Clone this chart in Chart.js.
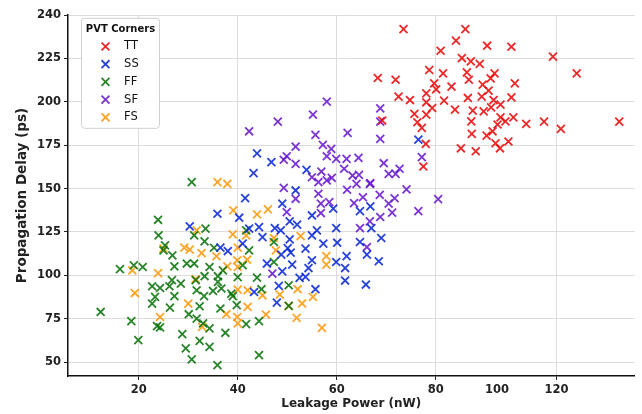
<!DOCTYPE html>
<html>
<head>
<meta charset="utf-8">
<script src="https://cdn.jsdelivr.net/npm/chart.js@4.4.1/dist/chart.umd.min.js"></script>
<style>
  html, body { margin: 0; padding: 0; background: #fff; }
  #wrap { width: 642px; height: 414px; }
</style>
</head>
<body>
<div id="wrap"><canvas id="pvtChart" width="642" height="414"></canvas></div>
<script>
// PVT corner samples: [leakage power (nW), propagation delay (ps)]
const cornerNames = ['TT', 'SS', 'FF', 'SF', 'FS'];
const cornerColors = [
    'rgba(235, 10, 10, 0.88)',
    'rgba(10, 40, 215, 0.88)',
    'rgba(10, 115, 10, 0.88)',
    'rgba(105, 25, 205, 0.88)',
    'rgba(255, 152, 10, 0.88)'
];

const ttPoints = [
    [73.5, 241.9], [86, 241.9], [84.1, 235.2], [90.4, 232.3], [95.3, 231.7], [81, 229.4], [103.7, 226],
    [85.3, 225.2], [87.1, 223.3], [88.9, 221.8], [108.5, 216.4], [78.7, 218.3], [81.5, 216.4], [86.3, 216.9],
    [91.9, 216.4], [68.3, 213.7], [71.9, 212.7], [86.7, 212.7], [91.1, 213.5], [96, 210.6], [79.7, 210.6],
    [83.2, 208.7], [80.1, 207.2], [89.5, 209.9], [90.7, 206.4], [78.1, 204.8], [72.5, 203], [74.8, 201],
    [78.1, 199.7], [81.7, 200.7], [86.5, 202.2], [89.3, 203], [91.7, 201], [95.3, 202.5], [93.1, 198.4],
    [79.3, 196.4], [83.9, 195.5], [87.5, 194.9], [89.7, 194.5], [91.2, 196.8], [75.7, 193], [78.1, 192.6],
    [87.2, 188.7], [93.1, 191], [94.1, 188.7], [95.7, 191], [98.3, 187.3], [101.9, 188.6], [105.3, 184.4],
    [117.1, 188.6], [76.3, 188.2], [77.2, 185], [69.2, 189.2], [92.5, 186.9], [91.5, 183], [90.3, 180.5],
    [87.3, 181.5], [78, 175.7], [92.1, 176.1], [94.7, 177.1], [93, 173.2], [85.1, 173.2], [88.1, 171.5],
    [77.5, 162.7]
];

const ssPoints = [
    [76.5, 178.2], [43.9, 170.3], [46.8, 165.2], [53.9, 160.8], [51.7, 148.9], [49, 141.3], [55, 134.5],
    [59.3, 138.4], [64.7, 137], [66.8, 139.7], [43.2, 158.9], [41.5, 144.5], [35.9, 135.5], [40.3, 133.2],
    [30.3, 128.2], [42.3, 126.9], [41, 118.3], [36.5, 116], [38, 114], [43.3, 90.4], [44.3, 127.8],
    [47.5, 127.2], [48.7, 125.9], [50.5, 131.1], [52, 129.2], [56, 125.9], [59.9, 127.2], [45, 122],
    [50.5, 120.7], [55, 123], [57.3, 118.3], [60.1, 118.8], [64.7, 119.2], [69, 121.5], [67, 127.2],
    [50.1, 115.7], [53.7, 115.4], [48.8, 111.9], [50.7, 113.1], [45.9, 106.8], [51, 106.2], [55, 108.7],
    [54.3, 104.2], [59.9, 107.7], [62, 111.1], [61.7, 104.2], [66.1, 111.9], [68.5, 108.1], [49, 102.3],
    [52.5, 98.5], [53.7, 99.1], [61.7, 97], [65.9, 94.7], [48.3, 93.9], [55.7, 92], [47.9, 84.3]
];

const ffPoints = [
    [30.7, 153.7], [23.9, 132], [24, 123], [25.3, 117.3], [25, 114.4], [26.8, 111.5], [16.2, 103.6],
    [19, 105.8], [20.8, 104.8], [27.2, 105.2], [29.7, 106.8], [31.2, 106.8], [31.2, 123], [33.5, 126.9],
    [33.3, 119.6], [35.2, 115.9], [34.3, 104.8], [33.3, 99.5], [36, 99.5], [37, 102.9], [36, 96.2],
    [31.5, 97.2], [22.7, 93.7], [24.3, 92.7], [26.7, 97.2], [26.2, 93.7], [28.5, 95.2], [23.3, 87.6],
    [22.7, 83.7], [27.2, 88], [31.7, 91.4], [33.2, 88], [35, 91], [38.7, 89.5], [39, 88], [36.7, 92.4],
    [26.3, 81.4], [30.1, 77.6], [32.3, 82.2], [36.5, 80.9], [39.8, 82.8], [23.7, 70.7], [24.3, 70],
    [31.7, 75.1], [33, 72.3], [34.3, 69.4], [41.7, 71.9], [37.5, 66.9], [28.8, 66.1], [29.5, 57.9],
    [32.3, 62.2], [34.3, 58.8], [30.7, 51.6], [35.9, 48.3], [12.3, 78.9], [18.5, 73.6], [19.9, 62.7],
    [42.3, 114.4], [41, 105.8], [40, 99], [41.7, 125.9], [43.9, 98.7], [47.3, 119.2], [47.3, 107.7],
    [50.3, 94.3], [50.3, 82.4], [44.8, 92], [44.3, 73.6], [44.3, 54]
];

const sfPoints = [
    [68.8, 196.2], [68.8, 188.6], [68.8, 178.6], [77.2, 168.1], [69.5, 164.6], [70.5, 158.5], [71.9, 158.5],
    [72.7, 161.4], [66.8, 153.1], [74.1, 149.5], [68.7, 146.4], [70.5, 141.3], [71.7, 144.4], [71.2, 136.1],
    [76.5, 137], [80.5, 143.9], [68.8, 133.6], [58, 200.1], [55.2, 192.6], [48.1, 188.6], [42.3, 183],
    [55.7, 180.9], [62.2, 182.1], [51.7, 174.2], [57.2, 175.2], [58.9, 172.9], [49.9, 168.6], [49.3, 166.6],
    [58, 168.6], [59.9, 167.1], [62, 167.1], [64.4, 167.7], [51.7, 164.2], [56.9, 159.8], [61.5, 161.4],
    [63.2, 157.5], [64.5, 157.9], [55, 156.5], [59, 156.2], [56.3, 153.7], [58, 154.7], [66.7, 152.7],
    [62.1, 149.3], [64, 152.7], [49.3, 150.4], [51.7, 144.1], [56.3, 147], [58.5, 142.2], [63.5, 141.6],
    [65.3, 145], [49.9, 136.4], [56.8, 141.3], [56.8, 135.9], [64.7, 127.2], [66.1, 116.3], [66.7, 131.1],
    [47, 101]
];

const fsPoints = [
    [35.9, 153.7], [37.9, 152.7], [39.1, 137.4], [43.9, 135.1], [31.7, 125.9], [29.2, 116], [30.3, 114.8],
    [32.7, 112.8], [25, 115.4], [35.7, 111], [39, 123.6], [40, 116], [41.7, 123], [41.9, 109], [39.9, 108.7],
    [40, 104.8], [37.9, 105.2], [18.7, 102.9], [23.9, 101.3], [31.5, 97.9], [19.2, 89.8], [30, 83.7],
    [24.3, 76], [32.8, 70.3], [37.7, 77.6], [39.9, 76], [40, 72.3], [42, 81.8], [40, 91.8], [42, 91.4],
    [46.1, 138], [47.3, 121.5], [47.7, 114.4], [52.7, 122.6], [57.9, 111.1], [57.9, 106.2], [52.1, 92],
    [48.5, 88.9], [55.2, 87.6], [50.3, 82.4], [53, 83.8], [45.7, 77.4], [51.9, 75.5], [57, 69.7], [45, 88.5]
];

const cornerSeries = [ttPoints, ssPoints, ffPoints, sfPoints, fsPoints];

// axis ticks as printed on the figure
const xTickValues = [20, 40, 60, 80, 92.4, 104.4];
const xTickLabels = ['20', '40', '60', '80', '100', '120'];
const yTickValues = [50, 75, 100, 125, 150, 175, 200, 225, 250];
const yTickLabels = ['50', '75', '100', '125', '150', '175', '200', '225', '240'];

const FONT = '"DejaVu Sans", sans-serif';
const MARK_R = 5.6;
const MARK_W = 1.8;

// legend box drawn inside the plot, top-left
const cornerLegend = {
    id: 'cornerLegend',
    afterDatasetsDraw(chart) {
        const ctx = chart.ctx;
        const area = chart.chartArea;
        const left = area.left + 13.5;
        const top = area.top + 3.3;
        const w = 78, h = 110;
        ctx.save();
        ctx.beginPath();
        ctx.roundRect(left, top, w, h, 3);
        ctx.fillStyle = 'rgba(255, 255, 255, 0.9)';
        ctx.fill();
        ctx.strokeStyle = '#cfcfcf';
        ctx.lineWidth = 1;
        ctx.stroke();

        ctx.fillStyle = '#111';
        ctx.font = 'bold 10px ' + FONT;
        ctx.textAlign = 'center';
        ctx.textBaseline = 'middle';
        ctx.fillText('PVT Corners', left + w / 2, top + 11);

        ctx.textAlign = 'left';
        ctx.font = '11.5px ' + FONT;
        chart.data.datasets.forEach((ds, i) => {
            const y = top + 28.2 + i * 17.7;
            ctx.strokeStyle = ds.borderColor;
            ctx.lineWidth = MARK_W;
            Chart.helpers.drawPoint(ctx, { pointStyle: 'crossRot', radius: MARK_R, borderWidth: MARK_W }, left + 24, y);
            ctx.fillStyle = '#111';
            ctx.fillText(ds.label, left + 42.6, y);
        });
        ctx.restore();
    }
};

const ctx = document.getElementById('pvtChart').getContext('2d');
new Chart(ctx, {
    type: 'scatter',
    data: {
        datasets: cornerNames.map((name, i) => ({
            label: name,
            data: cornerSeries[i].map(p => ({ x: p[0], y: p[1] })),
            pointStyle: 'crossRot',
            radius: MARK_R,
            hoverRadius: MARK_R,
            borderWidth: MARK_W,
            borderColor: cornerColors[i],
            backgroundColor: cornerColors[i]
        }))
    },
    options: {
        responsive: false,
        animation: false,
        devicePixelRatio: 1,
        layout: { padding: { top: 15, right: 1, left: 0, bottom: 0 } },
        plugins: {
            legend: { display: false },
            tooltip: { enabled: false }
        },
        scales: {
            x: {
                type: 'linear',
                min: 5.7,
                max: 120.2,
                afterBuildTicks: scale => { scale.ticks = xTickValues.map(v => ({ value: v })); },
                afterFit: scale => { scale.height = 38; },
                ticks: {
                    callback: (v, i) => xTickLabels[i],
                    color: '#222',
                    padding: 3,
                    maxRotation: 0,
                    autoSkip: false,
                    font: { family: FONT, size: 11.5, weight: 'bold' }
                },
                grid: {
                    color: c => c.index === 4 ? 'rgba(0,0,0,0)' : '#dcdcdc',
                    lineWidth: 1,
                    borderDash: [3, 3],
                    tickLength: 4,
                    tickColor: c => c.index === 4 ? 'rgba(0,0,0,0)' : '#222',
                    tickWidth: 1
                },
                border: { display: true, color: '#111', width: 1.5 },
                title: {
                    display: true,
                    text: 'Leakage Power (nW)',
                    color: '#222',
                    padding: { top: 0, bottom: 3 },
                    font: { family: FONT, size: 12, weight: 'bold' }
                }
            },
            y: {
                type: 'linear',
                min: 42,
                max: 250,
                afterBuildTicks: scale => { scale.ticks = yTickValues.map(v => ({ value: v })); },
                afterFit: scale => { scale.width = 68; },
                ticks: {
                    callback: (v, i) => yTickLabels[i],
                    color: '#222',
                    padding: 3,
                    autoSkip: false,
                    font: { family: FONT, size: 11.5, weight: 'bold' }
                },
                grid: {
                    color: '#dcdcdc',
                    lineWidth: 1,
                    borderDash: [3, 3],
                    tickLength: 4,
                    tickColor: '#222',
                    tickWidth: 1
                },
                border: { display: true, color: '#111', width: 1.5 },
                title: {
                    display: true,
                    text: 'Propagation Delay (ps)',
                    color: '#222',
                    padding: { top: 14, bottom: 0 },
                    font: { family: FONT, size: 13.5, weight: 'bold' }
                }
            }
        }
    },
    plugins: [cornerLegend]
});
</script>
</body>
</html>
